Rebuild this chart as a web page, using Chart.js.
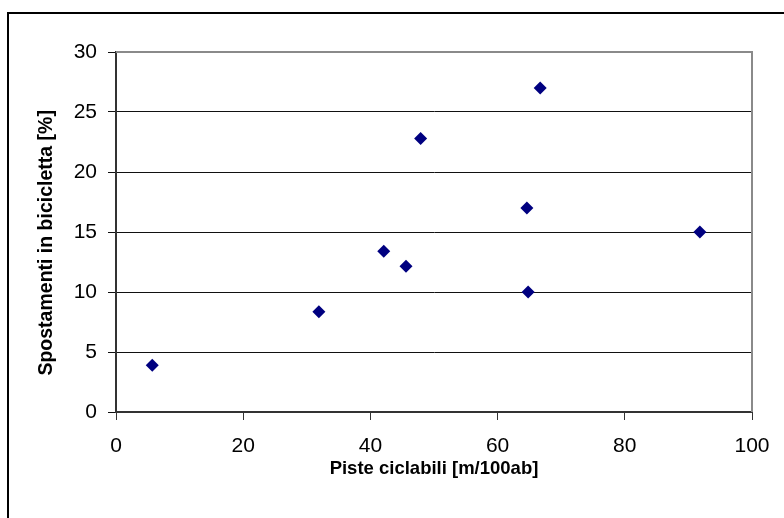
<!DOCTYPE html>
<html>
<head>
<meta charset="utf-8">
<script src="https://cdn.jsdelivr.net/npm/chart.js@4/dist/chart.umd.min.js"></script>
<style>
    html, body { margin: 0; padding: 0; background: #fff; overflow: hidden; }
    #wrap { position: relative; width: 784px; height: 518px; overflow: hidden; }
    #frame { position: absolute; left: 7px; top: 12px; width: 900px; height: 700px; border: 2px solid #000; }
    #chart { position: absolute; left: 0; top: 0; }
</style>
</head>
<body>
<div id="wrap">
    <div id="frame"></div>
    <canvas id="chart" width="784" height="518"></canvas>
</div>
<script>
//Bike lanes per 100 inhabitants and share of trips by bicycle
const pisteCiclabili = [5.7, 31.9, 42.1, 45.6, 47.9, 64.6, 64.8, 66.7, 91.8];
const spostamentiBici = [3.9, 8.35, 13.4, 12.15, 22.8, 17.0, 10.0, 27.0, 15.0];

//Axis ranges
const X_MIN = 0, X_MAX = 100, X_STEP = 20;
const Y_MIN = 0, Y_MAX = 30, Y_STEP = 5;

const FONT = "'Liberation Sans', Arial, sans-serif";

//Gray border on top and right of the plot area
const plotBorder = {
    id: "plotBorder",
    afterDraw(chart) {
        const { ctx, chartArea: a } = chart;
        ctx.save();
        ctx.strokeStyle = "#8a8a8a";
        ctx.lineWidth = 2;
        ctx.beginPath();
        ctx.moveTo(a.left, a.top);
        ctx.lineTo(a.right, a.top);
        ctx.lineTo(a.right, a.bottom);
        ctx.stroke();
        ctx.restore();
    },
};

const points = pisteCiclabili.map((x, i) => ({ x: x, y: spostamentiBici[i] }));

new Chart(document.getElementById("chart"), {
    type: "scatter",
    data: {
        datasets: [{
            data: points,
            pointStyle: "rectRot",
            pointRadius: 6.5,
            pointBorderWidth: 0,
            backgroundColor: "#000080",
            borderColor: "#000080",
        }],
    },
    options: {
        responsive: false,
        animation: false,
        layout: { padding: { left: 0, top: 52, right: 32, bottom: 0 } },
        plugins: {
            legend: { display: false },
            tooltip: { enabled: false },
        },
        scales: {
            x: {
                min: X_MIN,
                max: X_MAX,
                afterFit(scale) { scale.height = 106; },
                ticks: {
                    stepSize: X_STEP,
                    color: "#000",
                    padding: 14,
                    maxRotation: 0,
                    font: { family: FONT, size: 21 },
                },
                grid: {
                    drawOnChartArea: false,
                    drawTicks: true,
                    tickLength: 8,
                    color: "#333",
                    lineWidth: 1,
                },
                border: { color: "#333", width: 2 },
                title: {
                    display: true,
                    text: "Piste ciclabili [m/100ab]",
                    color: "#000",
                    padding: { top: 0, bottom: 38 },
                    font: { family: FONT, size: 18.5, weight: "bold" },
                },
            },
            y: {
                min: Y_MIN,
                max: Y_MAX,
                afterFit(scale) { scale.width = 116; },
                ticks: {
                    stepSize: Y_STEP,
                    color: "#000",
                    padding: 11,
                    font: { family: FONT, size: 21 },
                },
                grid: {
                    drawTicks: true,
                    tickLength: 8,
                    color: "#111",
                    lineWidth: 1,
                },
                border: { color: "#333", width: 2 },
                title: {
                    display: true,
                    //trailing spaces push the rotated title a bit lower, as in the original
                    text: "Spostamenti in bicicletta [%]    ",
                    color: "#000",
                    padding: { top: 35, bottom: 0 },
                    font: { family: FONT, size: 19.5, weight: "bold" },
                },
            },
        },
    },
    plugins: [plotBorder],
});
</script>
</body>
</html>
